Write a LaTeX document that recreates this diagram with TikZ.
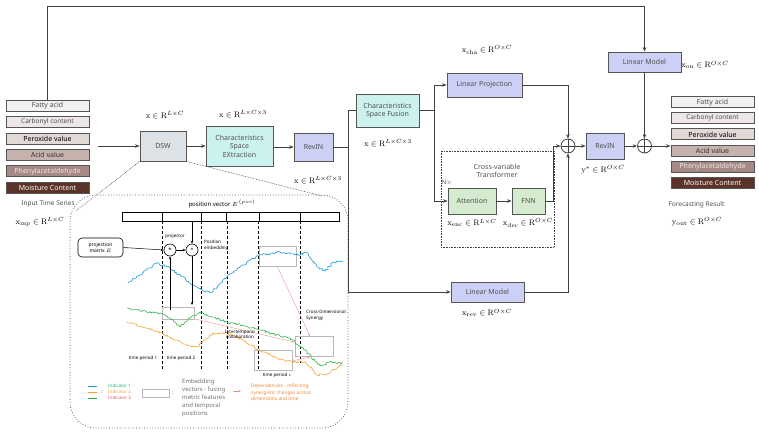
\documentclass[tikz,border=0pt]{standalone}
\usepackage[no-math]{fontspec}
\setmainfont{Noto Sans}
\usetikzlibrary{arrows.meta,decorations.pathmorphing}
\definecolor{linec}{HTML}{404040}
\definecolor{bordc}{HTML}{555555}
\definecolor{txtc}{HTML}{505050}
\definecolor{dswc}{HTML}{DCE2E6}
\definecolor{cyanc}{HTML}{CCF2F0}
\definecolor{lavc}{HTML}{CDD0F5}
\definecolor{grnc}{HTML}{D5EBCF}
\definecolor{la}{HTML}{F1F1F1}
\definecolor{lb}{HTML}{EEE7E7}
\definecolor{lc}{HTML}{E2D8D6}
\definecolor{ld}{HTML}{C6B3AE}
\definecolor{le}{HTML}{A68884}
\definecolor{lf}{HTML}{5C3328}
\definecolor{cblue}{HTML}{1E9BD7}
\definecolor{cgreen}{HTML}{2DB34A}
\definecolor{corange}{HTML}{F5A030}
\definecolor{cpink}{HTML}{F09090}
\definecolor{cgray}{HTML}{B8B8B8}
\definecolor{legtext}{HTML}{707070}
\definecolor{ind1}{HTML}{20B070}
\definecolor{ind3}{HTML}{E8506A}
\definecolor{depc}{HTML}{F08838}
\tikzset{
  box/.style={draw=bordc, line width=0.8pt, inner sep=1pt, align=center, text=txtc, font=\fontsize{7}{8.5}\selectfont},
  listbox/.style={draw=bordc, line width=1pt, minimum width=83pt, minimum height=11pt, inner sep=0pt, font=\fontsize{7}{8}\selectfont},
  line/.style={draw=linec, line width=0.8pt},
  arr/.style={line, -{Stealth[length=4.5pt,width=3.5pt]}},
  sarr/.style={draw=black, line width=0.5pt, -{Stealth[length=3pt,width=2.5pt]}},
  lbl/.style={font=\fontsize{8.5}{9.5}\selectfont, inner sep=0pt},
  pluscirc/.style={circle, draw=linec, line width=0.8pt, minimum size=14pt, inner sep=0pt,
    path picture={\draw[linec, line width=0.8pt] (path picture bounding box.north) -- (path picture bounding box.south) (path picture bounding box.west) -- (path picture bounding box.east);}},
  small/.style={font=\fontsize{4.5}{5.5}\selectfont, inner sep=0pt, align=center},
  curve/.style={line width=0.6pt, line join=round, decorate, decoration={random steps, segment length=1.5pt, amplitude=1.1pt}},
  embox/.style={draw=cgray, line width=0.5pt},
  dep/.style={draw=cpink, line width=0.4pt, -{Stealth[length=2.5pt,width=2pt]}}
}
\begin{document}
\begin{tikzpicture}[x=1pt,y=-1pt]
\useasboundingbox (0,0) rectangle (759,434);

% input list
\node[listbox, fill=la, text=txtc] (in1) at (47.5,106) {Fatty acid};
\node[listbox, fill=lb, text=txtc, font=\fontsize{6.5}{7.5}\selectfont] (in2) at (47.5,122.3) {Carbonyl content};
\node[listbox, fill=lc, text=black] (in3) at (47.5,138.7) {Peroxide value};
\node[listbox, fill=ld, text=black!80] (in4) at (47.5,155) {Acid value};
\node[listbox, fill=le, text=lb] (in5) at (47.5,171.3) {Phenylacetaldehyde};
\node[listbox, fill=lf, text=white] (in6) at (47.5,187.6) {Moisture Content};
\node[font=\fontsize{6.5}{7.5}\selectfont, text=txtc] (its) at (48,204) {Input Time Series};
\node[lbl] (xinp) at (40,222) {$\mathrm{x}_{\mathrm{inp}}\in\mathrm{R}^{L\times C}$};

% output list
\node[listbox, fill=la, text=txtc] (out1) at (712.5,102.2) {Fatty acid};
\node[listbox, fill=lb, text=txtc, font=\fontsize{6.5}{7.5}\selectfont] (out2) at (712.5,118.3) {Carbonyl content};
\node[listbox, fill=lc, text=black] (out3) at (712.5,134.4) {Peroxide value};
\node[listbox, fill=ld, text=black!80] (out4) at (712.5,150.5) {Acid value};
\node[listbox, fill=le, text=lb] (out5) at (712.5,166.6) {Phenylacetaldehyde};
\node[listbox, fill=lf, text=white] (out6) at (712.5,182.7) {Moisture Content};
\node[font=\fontsize{6.5}{7.5}\selectfont, text=txtc] (frs) at (696.5,205) {Forecasting Result};
\node[lbl] (yout) at (697,222) {$\mathrm{y}_{\mathrm{out}}\in\mathrm{R}^{O\times C}$};

% main boxes
\node[box, fill=dswc, minimum width=46pt, minimum height=30pt] (dsw) at (163,146) {DSW};
\node[box, fill=cyanc, minimum width=67pt, minimum height=40pt] (cse) at (239.5,146) {Characteristics\\Space\\EXtraction};
\node[box, fill=lavc, minimum width=39pt, minimum height=28pt] (rev1) at (313.5,147) {RevIN};
\node[box, fill=cyanc, minimum width=63pt, minimum height=33pt] (csf) at (387.5,110.5) {Characteristics\\Space Fusion};
\node[box, fill=lavc, minimum width=75pt, minimum height=24pt] (lp) at (484.5,85) {Linear Projection};
\node[box, fill=grnc, minimum width=48pt, minimum height=26pt] (att) at (472,201) {Attention};
\node[box, fill=grnc, minimum width=33pt, minimum height=26pt] (fnn) at (528.5,201) {FNN};
\node[box, fill=lavc, minimum width=73pt, minimum height=20pt] (lmb) at (487.5,292) {Linear Model};
\node[box, fill=lavc, minimum width=73pt, minimum height=20pt] (lmt) at (644.5,62) {Linear Model};
\node[pluscirc] (p1) at (568,146) {};
\node[box, fill=lavc, minimum width=38pt, minimum height=26pt] (rev2) at (605,146) {RevIN};
\node[pluscirc] (p2) at (644.5,146) {};

% transformer frame
\draw[linec, densely dotted, line width=0.6pt] (441,151) rectangle (554,247);
\node[font=\fontsize{7}{8.5}\selectfont, text=txtc, align=center] (cvt) at (497,171) {Cross-variable\\Transformer};
\node[font=\fontsize{6}{7}\selectfont, text=txtc, inner sep=0pt] (nx) at (447,183) {N$\times$};

% math labels
\node[lbl] (l1) at (165,115) {$\mathrm{x}\in\mathrm{R}^{L\times C}$};
\node[lbl] (l2) at (243,114) {$\mathrm{x}\in\mathrm{R}^{L\times C\times 3}$};
\node[lbl] (l3) at (318,180) {$\mathrm{x}\in\mathrm{R}^{L\times C\times 3}$};
\node[lbl] (l4) at (388,143) {$\mathrm{x}\in\mathrm{R}^{L\times C\times 3}$};
\node[lbl] (l5) at (487,50) {$\mathrm{x}_{\mathrm{cha}}\in\mathrm{R}^{O\times C}$};
\node[lbl] (l6) at (705,65) {$\mathrm{x}_{\mathrm{on}}\in\mathrm{R}^{O\times C}$};
\node[lbl] (l7) at (603,170) {$\mathrm{y}^{*}\in\mathrm{R}^{O\times C}$};
\node[lbl] (l8) at (472,223) {$\mathrm{x}_{\mathrm{enc}}\in\mathrm{R}^{L\times C}$};
\node[lbl] (l9) at (528,223) {$\mathrm{x}_{\mathrm{dec}}\in\mathrm{R}^{O\times C}$};
\node[lbl] (l10) at (487,313) {$\mathrm{x}_{\mathrm{rev}}\in\mathrm{R}^{O\times C}$};

% connectors
\coordinate (ytop) at (0,6);
\coordinate (inarr) at (98,146);
\coordinate (vx) at (348,0);
\coordinate (vx2) at (434,0);
\coordinate (vx3) at (553,0);
\draw[arr] (in1.north) -- (in1.north |- ytop) -| (lmt.north);
\draw[arr] (inarr) -- (dsw.west);
\draw[arr] (dsw) -- (cse);
\draw[arr] (cse.east |- rev1.west) -- (rev1.west);
\draw[line] (rev1.east) -- (rev1.east -| vx);
\draw[arr] (csf.west) -| (vx |- lmb.west) -- (lmb.west);
\draw[line] (csf.east) -- (csf.east -| vx2);
\draw[arr] (csf.east -| vx2) |- (lp.west);
\draw[arr] (csf.east -| vx2) |- (att.west);
\draw[arr] (att) -- (fnn);
\draw[arr] (fnn.east) -- (fnn.east -| vx3) |- (p1.west);
\draw[arr] (lp.east) -| (p1.north);
\draw[arr] (lmb.east) -| (p1.south);
\draw[arr] (p1) -- (rev2);
\draw[arr] (rev2) -- (p2);
\draw[arr] (lmt.south) -- (p2.north);
\draw[arr] (p2.east) -- (out4.west |- p2.east);

% inset
\draw[linec, dotted, line width=0.7pt, rounded corners=26pt] (70,195) rectangle (348,428);
\coordinate (insl) at (76,211);
\coordinate (insr) at (322,196);
\draw[linec, densely dotted, line width=0.6pt] (dsw.south west) -- (insl);
\draw[linec, densely dotted, line width=0.6pt] (dsw.south east) -- (insr);

\node[font=\fontsize{6}{7}\selectfont, inner sep=0pt] (pv) at (222,204) {position vector $E^{\,(pos)}$};
\draw[black, line width=0.9pt] (122,212) rectangle (339,221);
\foreach \xx in {162,201,226,259,300} \draw[black, line width=0.9pt] (\xx,212) -- (\xx,221);
\foreach \xx in {162,201,227,258} \draw[black, line width=0.9pt, dash pattern=on 3pt off 2pt] (\xx,221) -- (\xx,370);
\draw[black, line width=0.9pt, dash pattern=on 3pt off 2pt] (300,221) -- (300,363);

% embedding rectangles
\draw[embox] (162,307) rectangle (194,319);
\draw[embox] (259,246) rectangle (296,266);
\draw[embox] (254,350) rectangle (292,370);
\draw[embox] (295,336) rectangle (333,356);

% curves
\pgfmathsetseed{7}
\draw[cblue, curve] (128,283) -- (140,275) -- (157,263) -- (170,268) -- (193,285) -- (210,293) -- (227,277) -- (243,265) -- (260,255) -- (280,252) -- (297,255) -- (307,253) -- (317,267) -- (325,271) -- (333,262) -- (343,261);
\pgfmathsetseed{11}
\draw[cgreen, curve] (127,308) -- (140,311) -- (160,313) -- (170,318) -- (180,327) -- (190,318) -- (200,312) -- (213,317) -- (227,322) -- (245,326) -- (260,330) -- (280,336) -- (293,340) -- (305,350) -- (320,366) -- (330,362) -- (342,363);
\pgfmathsetseed{23}
\draw[corange, curve] (127,322) -- (140,326) -- (160,332) -- (175,340) -- (190,346) -- (197,347) -- (205,340) -- (213,333) -- (225,333) -- (235,336) -- (250,345) -- (262,352) -- (277,358) -- (292,362) -- (305,362) -- (317,375) -- (327,374) -- (337,368) -- (343,362);

% dependencies
\draw[dep] (277,266) -- (310,336);
\draw[dep] (195,319) -- (294,342);
\draw[dep] (292,361) -- (310,357);

% projection parts
\node[draw=black, line width=0.6pt, rounded corners=4pt, minimum width=45pt, minimum height=19pt, inner sep=0pt, align=center, font=\fontsize{5}{6}\selectfont] (pm) at (100.5,247.5) {projection\\matrix $E$};
\node[circle, draw=black, line width=0.6pt, minimum size=12pt, inner sep=0pt, font=\fontsize{6}{6}\selectfont] (c1) at (170,250) {*};
\node[circle, draw=black, line width=0.6pt, minimum size=12pt, inner sep=0pt, font=\fontsize{6}{6}\selectfont] (c2) at (192,250) {+};
\coordinate (barb) at (192,221);
\coordinate (downend) at (192,305);
\coordinate (upstart) at (170,310);
\draw[sarr] (pm.east) -- (c1.west);
\draw[sarr] (c1.east) -- (c2.west);
\draw[sarr] (barb) -- (c2.north);
\draw[sarr] (c2.south) -- (downend);
\draw[sarr] (upstart) -- (c1.south);
\node[small] (proj) at (175,236) {projector};
\node[small, anchor=west, align=left] (posemb) at (204,245.5) {Position\\embedding};

% period labels
\node[small] (tp1) at (143,358) {time period 1};
\node[small] (tp2) at (181,358) {time period 2};
\node[small] (tpi) at (277,375) {time period $i$};
\node[small] (itc) at (240,334.5) {Intertemporal\\collaboration};
\node[small, anchor=west, align=left] (cds) at (306,315.5) {Cross-Dimensional\\Synergy};

% legend
\draw[cblue, line width=0.6pt] (88,386) -- (97,386);
\draw[corange, line width=0.6pt] (88,392) -- (97,392);
\draw[cgreen, line width=0.6pt] (88,398) -- (97,398);
\node[small] (col1) at (102,392) {:};
\node[small, anchor=west, text=ind1] (i1) at (108,386) {Indicator 1};
\node[small, anchor=west, text=corange] (i2) at (108,392) {Indicator 2};
\node[small, anchor=west, text=ind3] (i3) at (108,398) {Indicator 3};
\draw[embox] (142,389) rectangle (169,397);
\node[small] (col2) at (173,393) {:};
\node[anchor=north west, inner sep=0pt, align=left, text=legtext, font=\fontsize{6}{8}\selectfont] (embt) at (182,379) {Embedding\\vectors - fusing\\metric features\\and temporal\\positions};
\coordinate (la1) at (233,391);
\coordinate (la2) at (241,391);
\draw[dep] (la1) -- (la2);
\node[anchor=north west, inner sep=0pt, align=left, text=depc, font=\fontsize{4.8}{6.5}\selectfont] (dept) at (251,384) {Dependencies - reflecting\\synergistic changes across\\dimensions and time};
\end{tikzpicture}
\end{document}
